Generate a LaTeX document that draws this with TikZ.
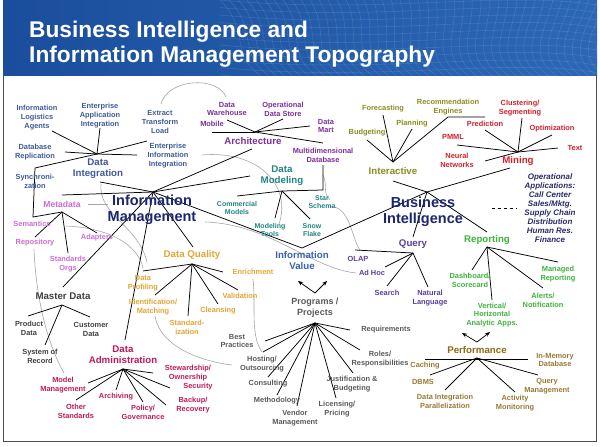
\documentclass[tikz,border=0pt]{standalone}
\usepackage{fontspec}
\setmainfont{Liberation Sans}
\usetikzlibrary{arrows.meta}
\definecolor{diC}{HTML}{3E5A9A}
\definecolor{arC}{HTML}{7D2E9E}
\definecolor{dmC}{HTML}{1F8585}
\definecolor{imC}{HTML}{1C2670}
\definecolor{mdC}{HTML}{CF6AD6}
\definecolor{msC}{HTML}{404040}
\definecolor{dqC}{HTML}{E3A532}
\definecolor{daC}{HTML}{C01A5C}
\definecolor{ivC}{HTML}{3A62B0}
\definecolor{ppC}{HTML}{5A5A5A}
\definecolor{itC}{HTML}{8C8C1E}
\definecolor{mnC}{HTML}{D4202C}
\definecolor{opC}{HTML}{2A2A6A}
\definecolor{qyC}{HTML}{5B3DA0}
\definecolor{rpC}{HTML}{3DB43D}
\definecolor{pfC}{HTML}{8A6A14}
\definecolor{pfI}{HTML}{9A7A32}
\definecolor{banA}{HTML}{1A4E9C}
\definecolor{banB}{HTML}{2C68B6}
\newcommand\mySpokes[2]{\foreach \x/\y [count=\i] in {#2} {\path (\x,\y) coordinate (#1-\i); \draw[spoke] (#1) -- (#1-\i);}}
\tikzset{
  spoke/.style={line width=0.75pt, black},
  gcurve/.style={line width=0.6pt, gray!70},
  arrowline/.style={line width=0.75pt, black, -{Stealth[length=5pt,width=4pt]}},
  lbl/.style={align=center, inner sep=0pt, font=\bfseries\fontsize{7.4}{8.9}\selectfont},
  hublbl/.style={align=center, inner sep=0pt, font=\bfseries\fontsize{9.7}{11}\selectfont},
  biglbl/.style={align=center, inner sep=0pt, font=\bfseries\fontsize{14.5}{16.5}\selectfont, text=imC},
  titlelbl/.style={anchor=base west, inner sep=0pt, text=white, font=\bfseries\fontsize{22.7}{26}\selectfont},
}
\begin{document}
\begin{tikzpicture}[x=1pt,y=-1pt]
\useasboundingbox (0,0) rectangle (600,447);
\fill[white] (0,0) rectangle (600,447);
% banner
\shade[left color=banA, right color=banB] (3,0) rectangle (597,75);
\begin{scope}
\clip (3,0) rectangle (597,75);
\foreach \i in {0,...,44} \draw[white,opacity=0.13,line width=0.5pt] ({220+\i*9},0) .. controls ({250+\i*8},30) and ({230+\i*8},55) .. ({260+\i*8},75);
\foreach \j in {0,...,10} \draw[white,opacity=0.13,line width=0.5pt] (220,{\j*7.5}) .. controls (380,{\j*7.5+15}) and (500,{\j*7.5-10}) .. (597,{\j*7.5+5});
\end{scope}
\node[titlelbl] (t1) at (29,37) {Business Intelligence and};
\node[titlelbl] (t2) at (29,62) {Information Management Topography};
% frame
\draw[gray!60!black, line width=1pt] (3,75) -- (3,441) -- (596,441) -- (596,75);

% hubs
\coordinate (diH) at (97,154);
\coordinate (imH) at (153,192);
\coordinate (arH) at (255,132);
\coordinate (dmH) at (282,191);
\coordinate (mdH) at (62,212);
\coordinate (msH) at (62,305);
\coordinate (dqH) at (192,264);
\coordinate (daH) at (123,369);
\coordinate (ivV) at (302,248);
\coordinate (ppH) at (315,323);
\coordinate (itH) at (393,162);
\coordinate (mnH) at (518,152);
\coordinate (biH) at (427,192);
\coordinate (qyH) at (413,253);
\coordinate (rpH) at (487,247);
\coordinate (pfH) at (477,358);

% gray curves
\coordinate (g1a) at (161,104); \coordinate (g1b) at (226,97);
\draw[gcurve] (g1a) .. controls (168,78) and (218,76) .. (g1b);
\coordinate (g2a) at (202,155); \coordinate (g2b) at (279,224);
\draw[gcurve] (g2a) .. controls (258,150) and (292,185) .. (g2b);
\coordinate (g3a) at (330,207); \coordinate (g3b) at (360,250);
\draw[gcurve] (g3a) .. controls (350,205) and (352,240) .. (g3b);
\coordinate (g3c) at (323,175); \coordinate (g3d) at (330,200);
\draw[gcurve] (g3c) .. controls (328,185) and (322,192) .. (g3d);
\coordinate (g4a) at (205,222); \coordinate (g4b) at (356,273);
\draw[gcurve] (g4a) .. controls (270,224) and (310,268) .. (g4b);
\coordinate (g5a) at (66,226); \coordinate (g5b) at (143,268);
\draw[gcurve] (g5a) .. controls (110,228) and (138,245) .. (g5b);
\coordinate (g5c) at (101,184); \coordinate (g5d) at (147,262);
\draw[gcurve] (g5c) .. controls (98,215) and (138,225) .. (g5d);
\coordinate (g6a) at (155,316); \coordinate (g6b) at (232,365);
\draw[gcurve] (g6a) .. controls (160,348) and (205,362) .. (g6b);
\coordinate (g7a) at (253,279); \coordinate (g7b) at (262,352);
\draw[gcurve] (g7a) .. controls (256,305) and (250,335) .. (g7b);
\coordinate (g8a) at (34,249); \coordinate (g8b) at (64,373);
\draw[gcurve] (g8a) .. controls (36,300) and (48,345) .. (g8b);
\coordinate (g9a) at (88,204); \coordinate (g9b) at (108,204);
\draw[gcurve] (g9a) -- (g9b);

% spokes
\mySpokes{diH}{52/131, 100/128, 65/152, 147/141, 137/155}
\coordinate (diK1) at (35,168); \coordinate (diK2) at (33,217);
\draw[spoke] (diH) -- (diK1) -- (diK2) -- (mdH);
\mySpokes{imH}{100/182, 62/195, 252/149, 250/176, 193/247, 63/287, 125/340}
\draw[spoke] (imH) -- (ivV) -- (biH);
\mySpokes{arH}{227/120, 283/119, 212/132, 310/126, 323/143}
\mySpokes{dmH}{237/196, 275/218, 310/219}
\coordinate (dmK) at (323,190); \coordinate (mdbB) at (323,165);
\draw[spoke] (dmH) -- (dmK) -- (mdbB);
\mySpokes{mdH}{35/237, 68/253, 97/233}
\mySpokes{msH}{28/316, 90/317, 45/345}
\mySpokes{dqH}{143/271, 155/295, 188/316, 218/304, 238/290, 223/272}
\mySpokes{daH}{88/383, 76/400, 116/390, 143/402, 166/405, 170/388, 153/373}
\mySpokes{ppH}{265/341, 263/352, 268/377, 277/395, 297/406, 336/398, 353/373, 360/350, 350/330}
\mySpokes{itH}{383/115, 367/140, 412/129}
\coordinate (recA) at (448,117); \coordinate (recB) at (485,117);
\draw[spoke] (itH) -- (recA) -- (recB);
\coordinate (itB) at (393,181);
\draw[spoke] (itB) -- (biH);
\mySpokes{mnH}{485/130, 522/118, 552/135, 457/145, 558/148, 485/161}
\coordinate (mnB) at (510,168);
\draw[spoke] (mnB) -- (biH);
\coordinate (qyT) at (413,237); \coordinate (rpT) at (487,232);
\draw[spoke] (biH) -- (qyT);
\draw[spoke] (biH) -- (rpT);
\coordinate (dsA) at (492,208); \coordinate (dsB) at (517,208);
\draw[spoke, dashed] (dsA) -- (dsB);
\mySpokes{qyH}{355/250, 385/267, 387/286, 428/287}
\mySpokes{rpH}{472/270, 558/262, 543/288, 492/300}
\coordinate (pfA) at (425,359); \coordinate (pfB) at (528,359);
\draw[spoke] (pfA) -- (pfB);
\mySpokes{pfH}{430/375, 445/390, 515/392, 538/375}
\coordinate (ppV) at (315,293); \coordinate (ppA1) at (298,281); \coordinate (ppA2) at (327,281);
\draw[arrowline] (ppV) -- (ppA1);
\draw[arrowline] (ppV) -- (ppA2);
\coordinate (pfV) at (477,342); \coordinate (pfA1) at (462,333); \coordinate (pfA2) at (490,332);
\draw[arrowline] (pfV) -- (pfA1);
\draw[arrowline] (pfV) -- (pfA2);

% Data Integration
\node[lbl, text=diC] (ila) at (37,118) {Information\\Logistics\\Agents};
\node[lbl, text=diC] (eai) at (100,116) {Enterprise\\Application\\Integration};
\node[lbl, text=diC] (dbr) at (35,152) {Database\\Replication};
\node[lbl, text=diC] (syn) at (35,181) {Synchroni-\\zation};
\node[lbl, text=diC] (etl) at (160,122) {Extract\\Transform\\Load};
\node[lbl, text=diC] (eii) at (168,156) {Enterprise\\Information\\Integration};
\node[hublbl, text=diC] (diL) at (98,169) {Data\\Integration};
% Architecture
\node[lbl, text=arC] (dw) at (227,109) {Data\\Warehouse};
\node[lbl, text=arC] (ods) at (283,109) {Operational\\Data Store};
\node[lbl, text=arC] (mob) at (212,124) {Mobile};
\node[lbl, text=arC] (dmart) at (326,126) {Data\\Mart};
\node[hublbl, text=arC] (arL) at (253,141) {Architecture};
\node[lbl, text=arC] (mdb) at (323,155) {Multidimensional\\Database};
% Data Modeling
\node[hublbl, text=dmC] (dmL) at (282,176) {Data\\Modeling};
\node[lbl, text=dmC, font=\bfseries\fontsize{7}{8.6}\selectfont] (cm) at (237,208) {Commercial\\Models};
\node[lbl, text=dmC, font=\bfseries\fontsize{7}{8.6}\selectfont] (mt) at (270,230) {Modeling\\Tools};
\node[lbl, text=dmC, font=\bfseries\fontsize{7}{8.6}\selectfont] (ss) at (322,202) {Star\\Schema};
\node[lbl, text=dmC, font=\bfseries\fontsize{7}{8.6}\selectfont] (sf) at (312,230) {Snow\\Flake};
% Information Management
\node[biglbl] (imL) at (152,210) {Information\\Management};
% Metadata
\node[hublbl, text=mdC, font=\bfseries\fontsize{8.6}{10}\selectfont] (mdL) at (62,204) {Metadata};
\node[lbl, text=mdC] (sem) at (32,224) {Semantics};
\node[lbl, text=mdC] (rep) at (35,243) {Repository};
\node[lbl, text=mdC] (sto) at (68,264) {Standards\\Orgs};
\node[lbl, text=mdC] (ada) at (97,238) {Adapters};
% Master Data
\node[hublbl, text=msC] (msL) at (63,296) {Master Data};
\node[lbl, text=msC] (prd) at (29,328) {Product\\Data};
\node[lbl, text=msC] (cus) at (91,329) {Customer\\Data};
\node[lbl, text=msC] (sor) at (40,356) {System of\\Record};
% Data Quality
\node[hublbl, text=dqC] (dqL) at (192,255) {Data Quality};
\node[lbl, text=dqC] (dpf) at (143,283) {Data\\Profiling};
\node[lbl, text=dqC] (idm) at (153,307) {Identification/\\Matching};
\node[lbl, text=dqC] (std) at (187,327) {Standard-\\ization};
\node[lbl, text=dqC] (cln) at (218,311) {Cleansing};
\node[lbl, text=dqC] (val) at (240,296) {Validation};
\node[lbl, text=dqC] (enr) at (253,272) {Enrichment};
% Data Administration
\node[hublbl, text=daC] (daL) at (123,355) {Data\\Administration};
\node[lbl, text=daC] (mmg) at (63,385) {Model\\Management};
\node[lbl, text=daC] (ost) at (76,411) {Other\\Standards};
\node[lbl, text=daC] (arc) at (116,397) {Archiving};
\node[lbl, text=daC] (pol) at (143,412) {Policy/\\Governance};
\node[lbl, text=daC] (stw) at (188,373) {Stewardship/\\Ownership};
\node[lbl, text=daC] (sec) at (198,387) {Security};
\node[lbl, text=daC] (bak) at (193,405) {Backup/\\Recovery};
% Information Value
\node[hublbl, text=ivC] (ivL) at (302,261) {Information\\Value};
% Programs / Projects
\node[hublbl, text=ppC, font=\bfseries\fontsize{9}{11}\selectfont] (ppL) at (315,308) {Programs /\\Projects};
\node[lbl, text=ppC] (bp) at (237,341) {Best\\Practices};
\node[lbl, text=ppC] (hos) at (262,364) {Hosting/\\Outsourcing};
\node[lbl, text=ppC] (con) at (268,384) {Consulting};
\node[lbl, text=ppC] (met) at (277,401) {Methodology};
\node[lbl, text=ppC] (ven) at (295,418) {Vendor\\Management};
\node[lbl, text=ppC] (lic) at (337,409) {Licensing/\\Pricing};
\node[lbl, text=ppC] (jus) at (352,384) {Justification \&\\Budgeting};
\node[lbl, text=ppC] (rol) at (380,359) {Roles/\\Responsibilities};
\node[lbl, text=ppC] (req) at (386,330) {Requirements};
% Interactive
\node[lbl, text=itC] (fc) at (383,109) {Forecasting};
\node[lbl, text=itC] (rec) at (448,107) {Recommendation\\Engines};
\node[lbl, text=itC] (bud) at (367,133) {Budgeting};
\node[lbl, text=itC] (pla) at (412,124) {Planning};
\node[hublbl, text=itC] (itL) at (393,171) {Interactive};
% Mining
\node[lbl, text=mnC] (clu) at (520,108) {Clustering/\\Segmenting};
\node[lbl, text=mnC] (pre) at (485,124) {Prediction};
\node[lbl, text=mnC] (opt) at (552,129) {Optimization};
\node[lbl, text=mnC] (pmml) at (453,137) {PMML};
\node[lbl, text=mnC] (txt) at (575,148) {Text};
\node[lbl, text=mnC] (nn) at (457,160) {Neural\\Networks};
\node[hublbl, text=mnC] (mnL) at (518,161) {Mining};
% Business Intelligence
\node[biglbl] (biL) at (423,212) {Business\\Intelligence};
\node[align=center, inner sep=0pt, text=opC, font=\bfseries\itshape\fontsize{8}{8.9}\selectfont] (opa) at (550,208) {Operational\\Applications:\\Call Center\\Sales/Mktg.\\Supply Chain\\Distribution\\Human Res.\\Finance};
% Query
\node[hublbl, text=qyC] (qyL) at (413,244) {Query};
\node[lbl, text=qyC] (olap) at (358,259) {OLAP};
\node[lbl, text=qyC] (adh) at (372,273) {Ad Hoc};
\node[lbl, text=qyC] (sea) at (387,293) {Search};
\node[lbl, text=qyC] (nat) at (430,298) {Natural\\Language};
% Reporting
\node[hublbl, text=rpC] (rpL) at (487,240) {Reporting};
\node[lbl, text=rpC] (dsh) at (470,280) {Dashboard/\\Scorecard};
\node[lbl, text=rpC] (mgr) at (558,274) {Managed\\Reporting};
\node[lbl, text=rpC] (alr) at (543,300) {Alerts/\\Notification};
\node[lbl, text=rpC] (vha) at (492,315) {Vertical/\\Horizontal\\Analytic Apps.};
% Performance
\node[hublbl, text=pfC] (pfL) at (477,350) {Performance};
\node[lbl, text=pfI] (cac) at (425,366) {Caching};
\node[lbl, text=pfI] (imd) at (555,360) {In-Memory\\Database};
\node[lbl, text=pfI] (dbms) at (423,382) {DBMS};
\node[lbl, text=pfI] (qm) at (547,386) {Query\\Management};
\node[lbl, text=pfI] (dip) at (445,401) {Data Integration\\Parallelization};
\node[lbl, text=pfI] (act) at (515,403) {Activity\\Monitoring};
\end{tikzpicture}
\end{document}
